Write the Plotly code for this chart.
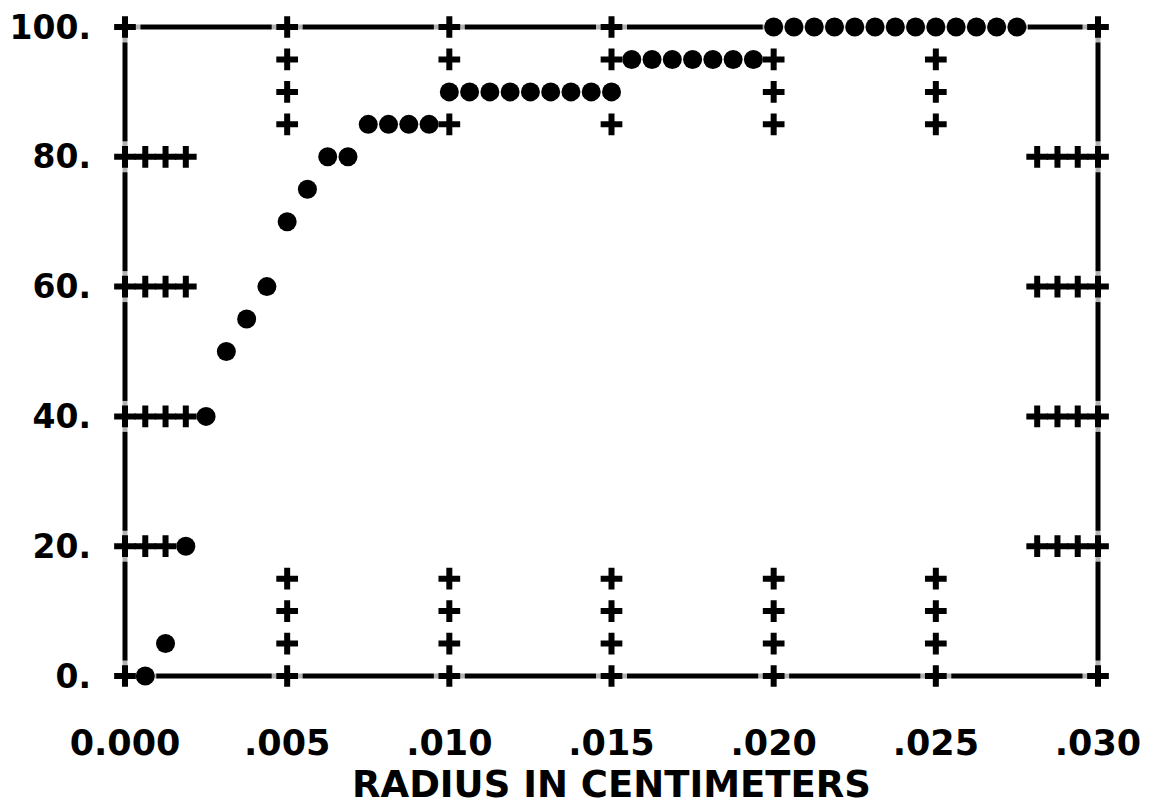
import plotly.graph_objects as go

# ---- data ----
radius_cm = [0.000625, 0.00125, 0.001875, 0.0025, 0.003125, 0.00375, 0.004375,
             0.005, 0.005625, 0.00625, 0.006875,
             0.0075, 0.008125, 0.00875, 0.009375,
             0.01, 0.010625, 0.01125, 0.011875, 0.0125, 0.013125, 0.01375, 0.014375, 0.015,
             0.015625, 0.01625, 0.016875, 0.0175, 0.018125, 0.01875, 0.019375,
             0.02, 0.020625, 0.02125, 0.021875, 0.0225, 0.023125, 0.02375, 0.024375,
             0.025, 0.025625, 0.02625, 0.026875, 0.0275]
percent = [0, 5, 20, 40, 50, 55, 60,
           70, 75, 80, 80,
           85, 85, 85, 85,
           90, 90, 90, 90, 90, 90, 90, 90, 90,
           95, 95, 95, 95, 95, 95, 95,
           100, 100, 100, 100, 100, 100, 100, 100,
           100, 100, 100, 100, 100]

x_tick_vals = [0.000, 0.005, 0.010, 0.015, 0.020, 0.025, 0.030]
x_tick_text = ["0.000", ".005", ".010", ".015", ".020", ".025", ".030"]
y_tick_vals = [0, 20, 40, 60, 80, 100]
y_tick_text = ["0.", "20.", "40.", "60.", "80.", "100."]
x_title = "RADIUS IN CENTIMETERS"

# ---- printer grid (one character cell) ----
X_RANGE = [0.0, 0.030]
Y_RANGE = [0, 100]
CELL_X = (X_RANGE[1] - X_RANGE[0]) / 48
CELL_Y = 5
TICK_DEPTH = 3

data_cells = {(round(x / CELL_X), round(y / CELL_Y)) for x, y in zip(radius_cm, percent)}
plus_x, plus_y = [], []


def add_plus(x, y):
    cell = (round(x / CELL_X), round(y / CELL_Y))
    if cell in data_cells:
        return
    plus_x.append(x)
    plus_y.append(y)


for xt in x_tick_vals:
    add_plus(xt, Y_RANGE[0])
    add_plus(xt, Y_RANGE[1])
    if X_RANGE[0] < xt < X_RANGE[1]:
        for k in range(1, TICK_DEPTH + 1):
            add_plus(xt, Y_RANGE[0] + k * CELL_Y)
            add_plus(xt, Y_RANGE[1] - k * CELL_Y)
for yt in y_tick_vals:
    if Y_RANGE[0] < yt < Y_RANGE[1]:
        for k in range(0, TICK_DEPTH + 1):
            add_plus(X_RANGE[0] + k * CELL_X, yt)
            add_plus(X_RANGE[1] - k * CELL_X, yt)

FONT = "DejaVu Sans"

fig = go.Figure()
# white knock-outs that break the frame line around each printed character
fig.add_trace(go.Scatter(
    x=plus_x + radius_cm, y=plus_y + percent, mode="markers",
    marker=dict(symbol="square", color="white",
                size=[31] * len(plus_x) + [22] * len(radius_cm), line=dict(width=0)),
    cliponaxis=False, hoverinfo="skip", showlegend=False))
# '+' characters (axis ticks)
fig.add_trace(go.Scatter(
    x=plus_x, y=plus_y, mode="markers",
    marker=dict(symbol="cross-thin", size=15.5, color="black",
                line=dict(color="black", width=6)),
    cliponaxis=False, hoverinfo="skip", showlegend=False))
# data points
fig.add_trace(go.Scatter(
    x=radius_cm, y=percent, mode="markers",
    marker=dict(symbol="circle", size=19, color="black", line=dict(width=0)),
    cliponaxis=False, hoverinfo="skip", showlegend=False))

# plot frame (whole plotting area), drawn beneath the traces so the characters break it
fig.add_shape(type="rect", xref="paper", yref="paper", x0=0, x1=1, y0=0, y1=1,
              line=dict(color="black", width=5), fillcolor="rgba(0,0,0,0)", layer="below")

axis_common = dict(showline=False, showgrid=False, zeroline=False, ticks="")

fig.update_xaxes(range=X_RANGE, tickmode="array", tickvals=x_tick_vals, ticktext=x_tick_text,
                 tickfont=dict(family=FONT, size=35, color="black", weight="bold"),
                 ticklabelstandoff=43,
                 title=dict(text=x_title, standoff=16,
                            font=dict(family=FONT, size=37, color="black", weight="bold")),
                 **axis_common)
fig.update_yaxes(range=Y_RANGE, tickmode="array", tickvals=y_tick_vals, ticktext=y_tick_text,
                 tickfont=dict(family=FONT, size=33, color="black", weight="bold"),
                 ticklabelstandoff=33,
                 **axis_common)

fig.update_layout(width=1161, height=806,
                  margin=dict(l=125, r=63, t=27, b=130, autoexpand=False),
                  plot_bgcolor="white", paper_bgcolor="white")

fig.write_html("out.html")
